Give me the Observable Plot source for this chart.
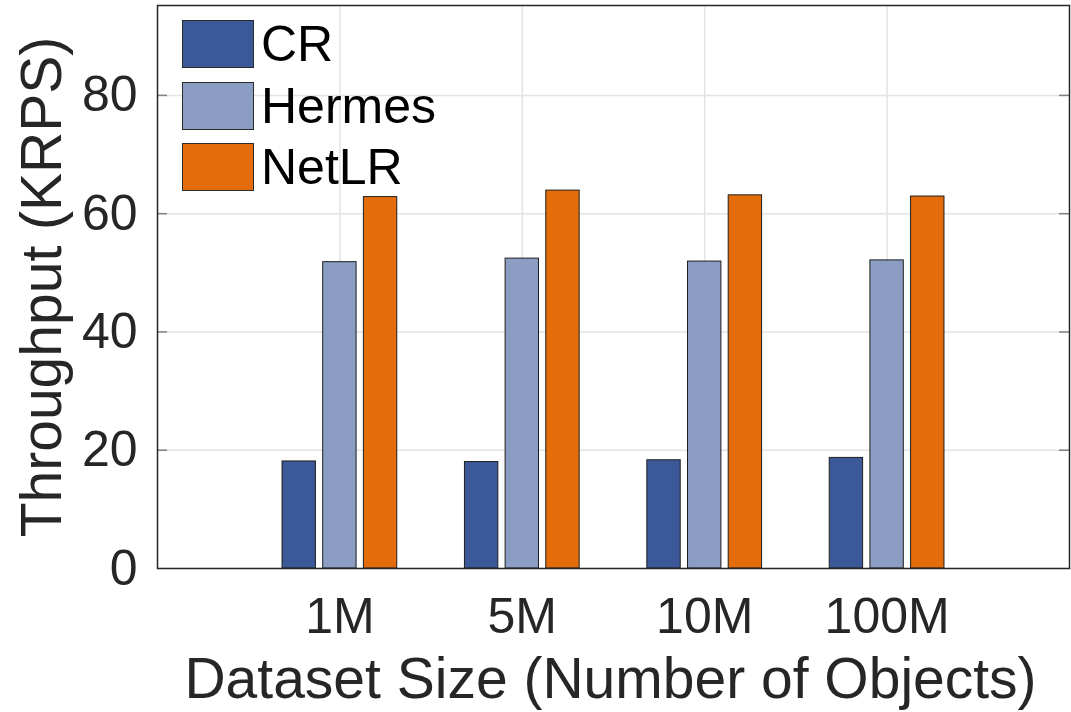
<!DOCTYPE html>
<html>
<head>
<meta charset="utf-8">
<script src="https://cdn.jsdelivr.net/npm/d3@7"></script>
<script src="https://cdn.jsdelivr.net/npm/@observablehq/plot@0.6"></script>
<style>
  html, body { margin: 0; padding: 0; background: #fff; }
  #wrap { position: relative; width: 1071px; height: 712px; font-family: "Liberation Sans", Arial, sans-serif; }
  #legend { position: absolute; left: 182px; top: 20px; }
  .item { display: flex; align-items: center; height: 48px; margin-bottom: 13.5px; }
  .sw { width: 70px; height: 46px; border: 1px solid #2b2b2b; }
  .lab { margin-left: 7px; font-size: 50px; color: #000; line-height: 48px; }
</style>
</head>
<body>
<div id="wrap">
  <div id="chart"></div>
  <div id="legend"></div>
</div>
<script>
// Dataset sizes on the x axis
const categories = ["1M", "5M", "10M", "100M"];
// Systems compared
const series = ["CR", "Hermes", "NetLR"];
// Throughput in KRPS per dataset size
const crValues = [18.1, 18.0, 18.3, 18.7];
const hermesValues = [51.8, 52.4, 51.9, 52.1];
const netlrValues = [62.8, 63.9, 63.1, 62.9];
// Y axis ticks
const yTicks = [0, 20, 40, 60, 80];

const colors = ["#3b5998", "#8b9dc3", "#e46c0a"];
const valuesBySeries = [crValues, hermesValues, netlrValues];

// Grouped layout: categories sit at 1..4 on a 0..5 axis, bars offset within each group
const barWidth = 0.183;
const barStep = 0.223;
const rows = [];
categories.forEach((cat, i) => {
  series.forEach((s, j) => {
    const center = i + 1 + (j - 1) * barStep;
    rows.push({cat, series: s, value: valuesBySeries[j][i], x1: center - barWidth / 2, x2: center + barWidth / 2});
  });
});

const tickLen = 10 / 182.4;

const chart = Plot.plot({
  width: 1071,
  height: 712,
  marginLeft: 157,
  marginRight: 2,
  marginTop: 5,
  marginBottom: 144,
  style: {fontFamily: "Liberation Sans, Arial, sans-serif", color: "#262626", background: "#fff", overflow: "visible"},
  x: {domain: [0, 5], axis: null},
  y: {domain: [0, 95.2], axis: null},
  color: {domain: series, range: colors},
  marks: [
    Plot.gridY(yTicks, {stroke: "#e3e3e3", strokeOpacity: 1, strokeWidth: 1.5}),
    Plot.gridX([1, 2, 3, 4], {stroke: "#e3e3e3", strokeOpacity: 1, strokeWidth: 1.5}),
    Plot.ruleY(yTicks.slice(1), {x1: 0, x2: tickLen, stroke: "#808080", strokeWidth: 1.5}),
    Plot.ruleY(yTicks.slice(1), {x1: 5 - tickLen, x2: 5, stroke: "#808080", strokeWidth: 1.5}),
    Plot.rectY(rows, {x1: "x1", x2: "x2", y: "value", fill: "series", stroke: "#1e1e1e", strokeWidth: 1}),
    Plot.frame({stroke: "#262626", strokeWidth: 1.5}),
    Plot.axisY(yTicks, {tickSize: 0, tickPadding: 20, fontSize: 50, label: null}),
    Plot.axisX([1, 2, 3, 4], {tickSize: 0, tickPadding: 29, fontSize: 50, label: null, tickFormat: d => categories[d - 1]}),
    Plot.text(["Throughput (KRPS)"], {frameAnchor: "left", rotate: -90, dx: -115, textAnchor: "middle", lineAnchor: "middle", fontSize: 57, fill: "#262626"}),
    Plot.text(["Dataset Size (Number of Objects)"], {frameAnchor: "bottom", dx: -3, dy: 111, textAnchor: "middle", lineAnchor: "middle", fontSize: 57, fill: "#262626"})
  ]
});
document.getElementById("chart").appendChild(chart);

// Legend inside the top-left of the plot area
const legend = document.getElementById("legend");
series.forEach((s, j) => {
  const item = document.createElement("div");
  item.className = "item";
  const sw = document.createElement("div");
  sw.className = "sw";
  sw.style.background = colors[j];
  const lab = document.createElement("div");
  lab.className = "lab";
  lab.textContent = s;
  item.appendChild(sw);
  item.appendChild(lab);
  legend.appendChild(item);
});
</script>
</body>
</html>
